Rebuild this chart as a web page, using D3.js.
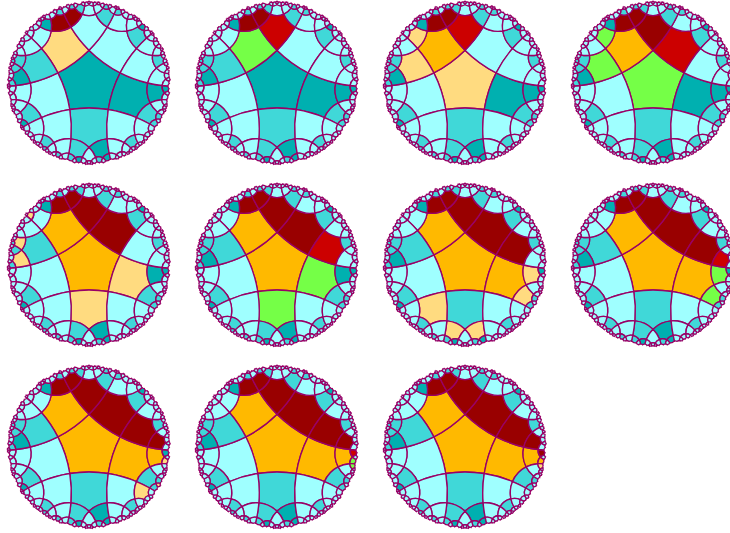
<!DOCTYPE html>
<html><head><meta charset="utf-8"><script src="https://cdn.jsdelivr.net/npm/d3@7"></script></head>
<body style="margin:0;background:#fff">
<script>
// tile names: the letters are the pentagon sides crossed on the way out from the centre
const baseDark = ["", "1", "14", "20", "304", "141", "024", "313", "412", "241", "202", "1302"];
const baseMedium = ["2", "02", "13", "24", "31", "34", "034", "013", "124", "230", "242", "341", "130", "131", "030", "414",
  "0413", "0412", "0341", "0314", "203", "2341", "2303", "3142", "3034", "3041", "3414"];

const frameYellow = [["4"], [], ["", "34", "42"], [], ["1", "2", "304", "341", "424"], [], ["14", "13", "23", "24", "20"], [], ["123", "142", "1301", "1313"], [], ["1342"]];
const frameGreen = [[], ["4"], [], ["", "34", "42"], [], ["1", "2"], [], ["14", "13"], [], ["142", "1342"], []];
const frameOrange = [[], [], ["4"], ["4"], ["", "4"], ["", "4"], ["", "4", "1"], ["", "4", "1"], ["", "4", "1", "14"], ["", "4", "1", "14"], ["", "4", "1", "14", "142"]];
const frameRed = [[], ["40"], ["40"], ["0"], [], ["01"], [], ["014"], [], ["141"], []];
const frameDarkRed = [
  ["41", "041"], ["41", "041"], ["41", "041"], ["41", "041", "40"],
  ["41", "041", "40", "0"], ["41", "041", "40", "0"], ["41", "041", "40", "0", "01"], ["41", "041", "40", "0", "01"],
  ["41", "041", "40", "0", "01", "014"], ["41", "041", "40", "0", "01", "014"], ["41", "041", "40", "0", "01", "014", "141"]
];

const colors = {light: "#9fffff", medium: "#40d8d8", dark: "#00b0b0", yellow: "#ffdb80", green: "#75ff47", orange: "#ffb900", red: "#cc0000", darkRed: "#990000"};

const R = 82.3, minSize = 2.8;
const x = d3.scaleLinear().domain([0, 1]).range([89, 277]);
const y = d3.scaleLinear().domain([0, 1]).range([83, 265]);

const inR = Math.tanh(Math.acosh(Math.cos(Math.PI / 4) / Math.sin(Math.PI / 5)) / 2);
const outR = Math.tanh(Math.acosh(1 / Math.tan(Math.PI / 5)) / 2);
const mirrors = d3.range(5).map(i => {
  const t = (-54 + 72 * i) * Math.PI / 180;
  const d = (inR + 1 / inR) / 2;
  return {x: d * Math.cos(t), y: d * Math.sin(t), r: (1 / inR - inR) / 2};
});
const corners = d3.range(5).map(i => {
  const t = (-90 + 72 * i) * Math.PI / 180;
  return [outR * Math.cos(t), outR * Math.sin(t)];
});

function reflect(i, p) {
  const c = mirrors[i], dx = p[0] - c.x, dy = p[1] - c.y, k = c.r * c.r / (dx * dx + dy * dy);
  return [c.x + dx * k, c.y + dy * k];
}
function walk(word, p) {
  for (let j = word.length - 1; j >= 0; j--) p = reflect(+word[j], p);
  return p;
}
function keyOf(word) {
  const c = walk(word, [0, 0]);
  return c.map(v => (Math.abs(v) < 1e-6 ? 0 : v).toFixed(5)).join(",");
}

// geodesic from a to b as an svg arc
function arc(a, b) {
  const d = a[0] * b[1] - a[1] * b[0];
  if (Math.abs(d) < 1e-9) return `L${b[0] * R} ${b[1] * R}`;
  const A = a[0] * a[0] + a[1] * a[1] + 1, B = b[0] * b[0] + b[1] * b[1] + 1;
  const ux = (A * b[1] - B * a[1]) / (2 * d), uy = (B * a[0] - A * b[0]) / (2 * d);
  const r = Math.sqrt(ux * ux + uy * uy - 1) * R;
  return `A${r} ${r} 0 0 ${d > 0 ? 0 : 1} ${b[0] * R} ${b[1] * R}`;
}

const tiles = [];
const seen = new Set([keyOf("")]);
let level = [""];
while (level.length) {
  const next = [];
  for (const w of level) {
    const pts = corners.map(p => walk(w, p));
    const size = d3.max(pts, p => Math.hypot(p[0] - pts[2][0], p[1] - pts[2][1])) * R;
    if (size < minSize) continue;
    let d = `M${pts[0][0] * R} ${pts[0][1] * R}`;
    pts.forEach((p, i) => { d += arc(p, pts[(i + 1) % 5]); });
    tiles.push({key: keyOf(w), d});
    for (let i = 0; i < 5; i++) {
      const k = keyOf(w + i);
      if (!seen.has(k)) { seen.add(k); next.push(w + i); }
    }
  }
  level = next;
}

const svg = d3.select("body").append("svg").attr("width", 730).attr("height", 533);

d3.range(11).forEach(f => {
  const fill = new Map();
  const paint = (list, c) => list.forEach(w => fill.set(keyOf(w), c));
  paint(baseDark, colors.dark);
  paint(baseMedium, colors.medium);
  paint(frameYellow[f], colors.yellow);
  paint(frameGreen[f], colors.green);
  paint(frameOrange[f], colors.orange);
  paint(frameRed[f], colors.red);
  paint(frameDarkRed[f], colors.darkRed);
  svg.append("g")
    .attr("transform", `translate(${x(f % 4)},${y(Math.floor(f / 4))})`)
    .selectAll("path").data(tiles).join("path")
    .attr("d", d => d.d)
    .attr("fill", d => fill.get(d.key) || colors.light)
    .attr("stroke", "#990066")
    .attr("stroke-width", 1.35);
});
</script></body></html>
